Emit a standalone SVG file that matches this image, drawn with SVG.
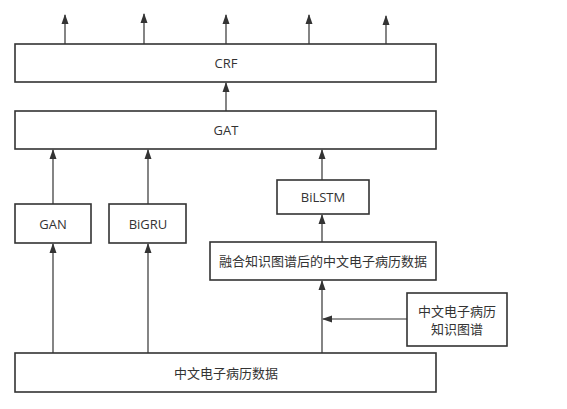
<svg xmlns="http://www.w3.org/2000/svg" width="567" height="409" viewBox="0 0 567 409">
<style>
.box{fill:#fff;stroke:#333;stroke-width:1.6}
.t{font-family:"Open Sans","Noto Sans CJK SC",sans-serif;font-size:13px;fill:#333;text-anchor:middle;dominant-baseline:central}
.c{stroke:#333;stroke-width:1.2;fill:none;marker-end:url(#ah)}
</style>
<defs>
<marker id="ah" viewBox="0 0 10 8" refX="9" refY="4" markerWidth="10" markerHeight="8" markerUnits="userSpaceOnUse" orient="auto">
<path d="M0,0.5 L10,4 L0,7.5 Z" fill="#333"/>
</marker>
</defs>
<rect width="567" height="409" fill="#fff"/>
<g id="connectors">
<line class="c" x1="65" y1="44" x2="65" y2="15"/>
<line class="c" x1="144" y1="44" x2="144" y2="14"/>
<line class="c" x1="226" y1="44" x2="226" y2="15"/>
<line class="c" x1="309" y1="44" x2="309" y2="15"/>
<line class="c" x1="386" y1="44" x2="386" y2="16"/>
<line class="c" x1="226" y1="111" x2="226" y2="83"/>
<line class="c" x1="53" y1="204" x2="53" y2="150"/>
<line class="c" x1="148" y1="204" x2="148" y2="150"/>
<line class="c" x1="322" y1="180" x2="322" y2="150"/>
<line class="c" x1="322" y1="242" x2="322" y2="215"/>
<line class="c" x1="53" y1="353" x2="53" y2="244"/>
<line class="c" x1="148" y1="353" x2="148" y2="244"/>
<line class="c" x1="322" y1="353" x2="322" y2="281"/>
<line class="c" x1="407" y1="319" x2="323" y2="319"/>
</g>
<g id="crf"><rect class="box" x="15" y="44" width="421" height="38"/><text class="t" x="226" y="63">CRF</text></g>
<g id="gat"><rect class="box" x="15" y="111" width="421" height="38"/><text class="t" x="226" y="130">GAT</text></g>
<g id="gan"><rect class="box" x="15" y="204" width="76" height="39"/><text class="t" x="53" y="223.5">GAN</text></g>
<g id="bigru"><rect class="box" x="109" y="204" width="77" height="39"/><text class="t" x="148" y="223.5">BiGRU</text></g>
<g id="bilstm"><rect class="box" x="277" y="180" width="92" height="34"/><text class="t" x="323" y="197">BiLSTM</text></g>
<g id="fused"><rect class="box" x="210" y="242" width="226" height="38"/><text class="t" x="323" y="261">融合知识图谱后的中文电子病历数据</text></g>
<g id="data"><rect class="box" x="15" y="353" width="421" height="39"/><text class="t" x="226" y="372.5">中文电子病历数据</text></g>
<g id="kg"><rect class="box" x="407" y="293" width="100" height="53"/><text class="t" x="457" y="311">中文电子病历</text><text class="t" x="457" y="329">知识图谱</text></g>
</svg>
